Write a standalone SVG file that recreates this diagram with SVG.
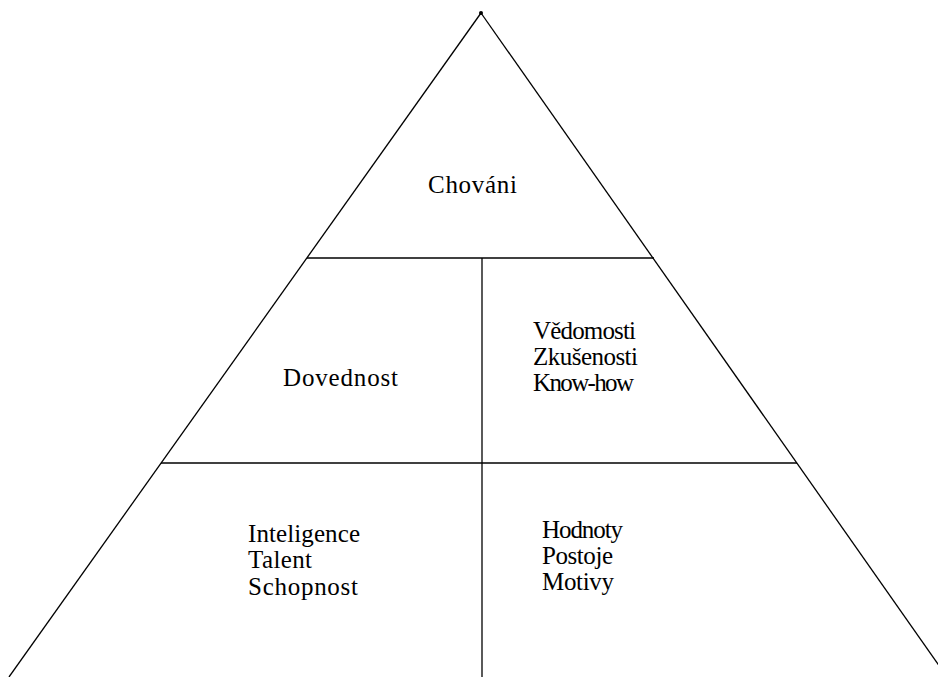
<svg xmlns="http://www.w3.org/2000/svg" width="938" height="677" viewBox="0 0 938 677">
<style>
.ln{stroke:#000;stroke-width:1.3;fill:none}
.t{font-family:"Liberation Serif","Times New Roman",serif;font-size:25px;fill:#000}
</style>
<rect width="938" height="677" fill="#fff"/>
<g id="connectors">
<path class="ln" d="M481,13 L9,677"/>
<path class="ln" d="M481,13 L947,677"/>
<path class="ln" d="M307,258 L654,258"/>
<path class="ln" d="M161,463 L797,463"/>
<path class="ln" d="M482,258 L482,677"/>
<circle cx="481" cy="13" r="2" fill="#000"/>
</g>
<g id="chovani"><text class="t" x="428" y="193" textLength="89">Chováni</text></g>
<g id="dovednost"><text class="t" x="283" y="386" textLength="115">Dovednost</text></g>
<g id="vedomosti"><text class="t" x="533" y="339" textLength="103">Vědomosti</text><text class="t" x="533" y="365" textLength="105">Zkušenosti</text><text class="t" x="533" y="391" textLength="101">Know-how</text></g>
<g id="inteligence"><text class="t" x="248" y="542" textLength="112">Inteligence</text><text class="t" x="248" y="568" textLength="64">Talent</text><text class="t" x="248" y="595" textLength="110">Schopnost</text></g>
<g id="hodnoty"><text class="t" x="542" y="538" textLength="81">Hodnoty</text><text class="t" x="542" y="564" textLength="71">Postoje</text><text class="t" x="542" y="590" textLength="72">Motivy</text></g>
</svg>
